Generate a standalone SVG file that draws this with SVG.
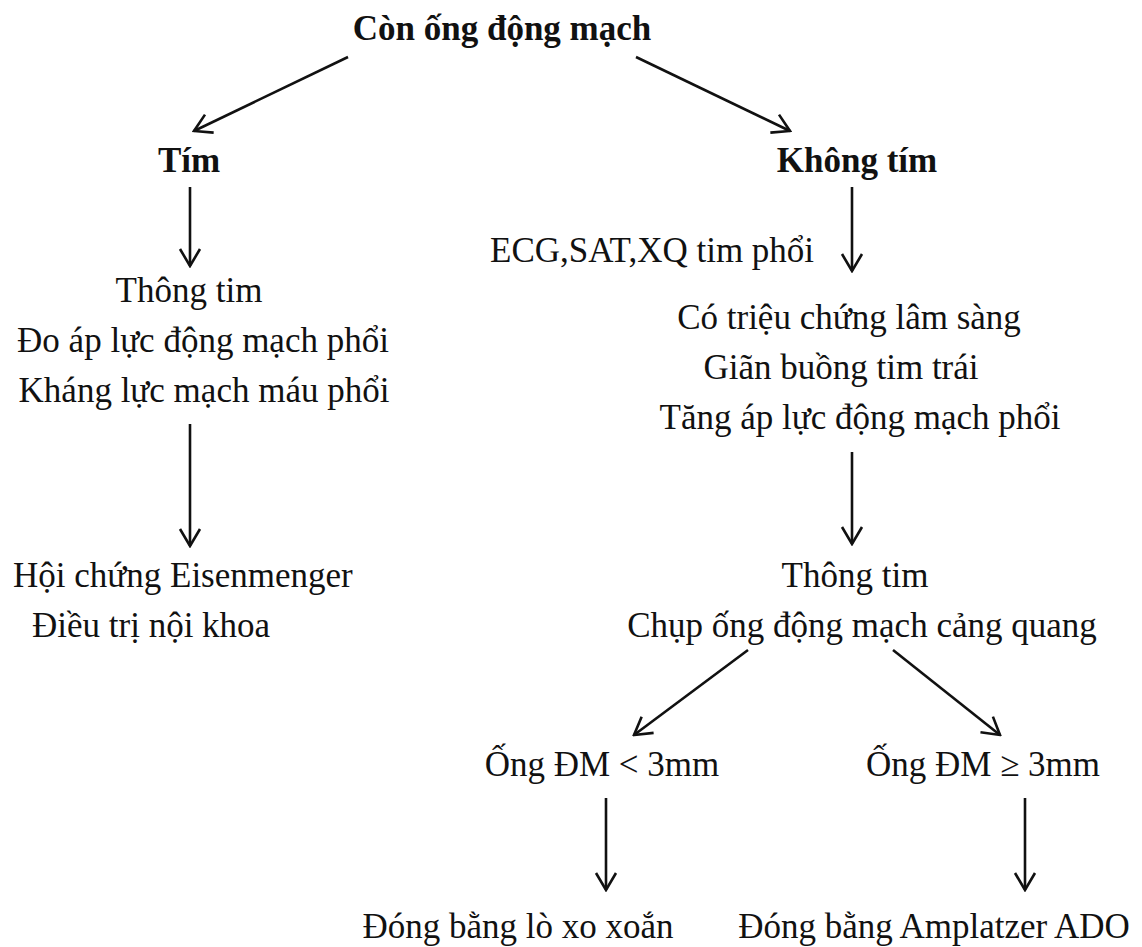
<svg xmlns="http://www.w3.org/2000/svg" width="1142" height="947" viewBox="0 0 1142 947">
  <style>
    text { font-family: "Liberation Serif", "Times New Roman", serif; font-size: 35px; fill: #111; }
    .b { font-weight: bold; }
    .m { text-anchor: middle; }
    .edge { stroke: #111; stroke-width: 2.6; fill: none; marker-end: url(#head); }
  </style>
  <defs>
    <!-- open V arrowhead -->
    <marker id="head" viewBox="0 0 22 24" refX="20" refY="12" markerWidth="22" markerHeight="24" markerUnits="userSpaceOnUse" orient="auto">
      <path d="M3,2 L20,12 L3,22" fill="none" stroke="#111" stroke-width="2.6" stroke-linejoin="miter"/>
    </marker>
  </defs>
  <rect width="1142" height="947" fill="#fff"/>

  <g id="connectors">
    <line class="edge" x1="348" y1="57" x2="194" y2="131"/>
    <line class="edge" x1="636" y1="57" x2="790" y2="131"/>
    <line class="edge" x1="190" y1="187" x2="190" y2="266"/>
    <line class="edge" x1="190" y1="424" x2="190" y2="546"/>
    <line class="edge" x1="852" y1="187" x2="852" y2="271"/>
    <line class="edge" x1="852" y1="452" x2="852" y2="544"/>
    <line class="edge" x1="748" y1="650" x2="634" y2="735"/>
    <line class="edge" x1="893" y1="650" x2="1000" y2="735"/>
    <line class="edge" x1="606" y1="798" x2="606" y2="890"/>
    <line class="edge" x1="1025" y1="798" x2="1025" y2="890"/>
  </g>

  <g id="root"><text class="b m" x="502" y="40">Còn ống động mạch</text></g>
  <g id="tim"><text class="b m" x="189" y="172">Tím</text></g>
  <g id="khong-tim"><text class="b m" x="857" y="172">Không tím</text></g>

  <g id="thong-tim-1">
    <text class="m" x="189" y="302">Thông tim</text>
    <text class="m" x="203" y="352">Đo áp lực động mạch phổi</text>
    <text class="m" x="204" y="402">Kháng lực mạch máu phổi</text>
  </g>
  <g id="eisenmenger">
    <text x="13" y="587">Hội chứng Eisenmenger</text>
    <text x="32" y="637">Điều trị nội khoa</text>
  </g>

  <g id="xet-nghiem"><text x="490" y="262">ECG,SAT,XQ tim phổi</text></g>
  <g id="trieu-chung">
    <text class="m" x="849" y="329">Có triệu chứng lâm sàng</text>
    <text class="m" x="841" y="379">Giãn buồng tim trái</text>
    <text class="m" x="860" y="429">Tăng áp lực động mạch phổi</text>
  </g>
  <g id="thong-tim-2">
    <text class="m" x="855" y="587">Thông tim</text>
    <text class="m" x="862" y="637">Chụp ống động mạch cảng quang</text>
  </g>
  <g id="ong-nho"><text class="m" x="602" y="776">Ống ĐM &lt; 3mm</text></g>
  <g id="ong-lon"><text class="m" x="983" y="776">Ống ĐM ≥ 3mm</text></g>
  <g id="lo-xo"><text class="m" x="518" y="938">Đóng bằng lò xo xoắn</text></g>
  <g id="amplatzer"><text class="m" x="934" y="938">Đóng bằng Amplatzer ADO</text></g>
</svg>
